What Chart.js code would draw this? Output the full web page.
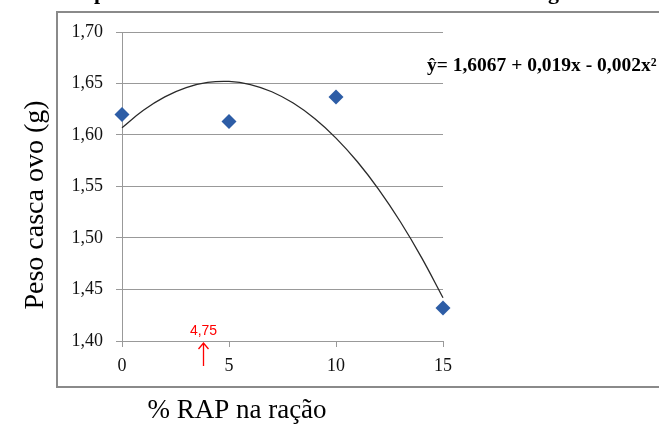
<!DOCTYPE html>
<html>
<head>
<meta charset="utf-8">
<script src="https://cdn.jsdelivr.net/npm/chart.js@4.4.1/dist/chart.umd.min.js"></script>
<style>
  html, body { margin: 0; padding: 0; background: #fff; }
  #wrap { width: 659px; height: 424px; }
</style>
</head>
<body>
<div id="wrap"><canvas id="chart" width="659" height="424"></canvas></div>
<script>
// observed values (% RAP in the diet vs eggshell weight)
const doses = [0, 5, 10, 15];
const pesoCasca = [1.620, 1.613, 1.637, 1.432];

// fitted curve
const curvaX = [0, 1, 2, 3, 4, 5, 6, 7, 8, 9, 10, 11, 12, 13, 14, 15];
const curvaY = [1.607, 1.624, 1.637, 1.646, 1.651, 1.652, 1.649, 1.642, 1.631, 1.616,
                1.597, 1.574, 1.547, 1.516, 1.481, 1.442];

const yTicks = [1.40, 1.45, 1.50, 1.55, 1.60, 1.65, 1.70];
const xTicks = [0, 5, 10, 15];
const arrowX = 3.8; // where the red arrow sits on the axis
const arrowLabel = '4,75';
const equacao = 'ŷ= 1,6067 + 0,019x - 0,002x²';

const serif = '"Liberation Serif", "DejaVu Serif", serif';

// frame, titles and annotations
const extras = {
  id: 'extras',
  beforeDraw(chart) {
    const c = chart.ctx;
    c.save();
    c.fillStyle = '#fff';
    c.fillRect(0, 0, chart.width, chart.height);
    c.strokeStyle = '#8a8a8a';
    c.lineWidth = 2;
    c.strokeRect(57, 12, 640, 375);
    c.restore();
  },
  afterDraw(chart) {
    const c = chart.ctx;
    const x = chart.scales.x, y = chart.scales.y;
    c.save();
    // cut-off title remnants
    c.fillStyle = '#000';
    c.font = 'bold 22px ' + serif;
    c.textBaseline = 'alphabetic';
    c.fillText('p', 94, -1);
    c.fillText('g', 548, -1);

    // equation
    c.font = 'bold 19.5px ' + serif;
    c.textAlign = 'left';
    c.fillText(equacao, 427, 71);

    // axis titles
    c.font = '27px ' + serif;
    c.textAlign = 'center';
    c.fillText('% RAP na ração', 237, 418);
    c.save();
    c.translate(43, 205);
    c.rotate(-Math.PI / 2);
    c.font = '28px ' + serif;
    c.fillText('Peso casca ovo (g)', 0, 0);
    c.restore();

    // red arrow
    const ax = Math.round(x.getPixelForValue(arrowX)) + 0.5;
    const ay = y.bottom + 2;
    c.strokeStyle = '#ff0000';
    c.lineWidth = 1.3;
    c.beginPath();
    c.moveTo(ax, ay + 23);
    c.lineTo(ax, ay);
    c.moveTo(ax - 5, ay + 6);
    c.lineTo(ax, ay);
    c.lineTo(ax + 5, ay + 6);
    c.stroke();
    c.fillStyle = '#ff0000';
    c.font = '14px "Liberation Sans", Arial, sans-serif';
    c.fillText(arrowLabel, ax, y.bottom - 6);
    c.restore();
  }
};

new Chart(document.getElementById('chart'), {
  type: 'scatter',
  data: {
    datasets: [
      {
        label: 'Peso casca',
        data: doses.map((d, i) => ({ x: d, y: pesoCasca[i] })),
        pointStyle: 'rectRot',
        pointRadius: 7.5,
        backgroundColor: '#2d5da6',
        borderColor: '#2d5da6',
        borderWidth: 0,
        clip: false,
        order: 1
      },
      {
        label: 'Ajuste',
        data: curvaX.map((d, i) => ({ x: d, y: curvaY[i] })),
        showLine: true,
        pointRadius: 0,
        borderColor: '#2a2a2a',
        borderWidth: 1.3,
        tension: 0.4,
        clip: false,
        order: 2
      }
    ]
  },
  options: {
    responsive: false,
    animation: false,
    layout: { padding: { left: 0, right: 216, top: 32, bottom: 0 } },
    plugins: { legend: { display: false }, tooltip: { enabled: false } },
    scales: {
      x: {
        type: 'linear',
        min: 0,
        max: 15,
        afterFit: s => { s.height = 83; },
        afterBuildTicks: s => { s.ticks = xTicks.map(v => ({ value: v })); },
        grid: { drawOnChartArea: false, drawTicks: true, tickLength: 6, color: '#999' },
        border: { color: '#999', width: 1 },
        ticks: {
          padding: 8,
          color: '#111',
          font: { family: serif, size: 18 }
        }
      },
      y: {
        min: 1.40,
        max: 1.70,
        afterFit: s => { s.width = 122; },
        afterBuildTicks: s => { s.ticks = yTicks.map(v => ({ value: v })); },
        grid: { color: '#999', lineWidth: 1, tickLength: 6 },
        border: { color: '#999', width: 1 },
        ticks: {
          padding: 13,
          color: '#111',
          font: { family: serif, size: 18 },
          callback: v => v.toFixed(2).replace('.', ',')
        }
      }
    }
  },
  plugins: [extras]
});
</script>
</body>
</html>
